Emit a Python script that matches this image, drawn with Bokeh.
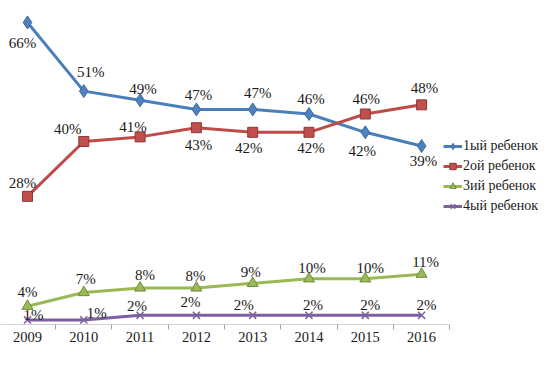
from bokeh.plotting import figure
from bokeh.models import ColumnDataSource, FixedTicker, Legend, LegendItem, Range1d
from bokeh.core.properties import value
from bokeh.embed import file_html
from bokeh.resources import INLINE

years = ["2009", "2010", "2011", "2012", "2013", "2014", "2015", "2016"]
first_child = [66, 51, 49, 47, 47, 46, 42, 39]
second_child = [28, 40, 41, 43, 42, 42, 46, 48]
third_child = [4, 7, 8, 8, 9, 10, 10, 11]
fourth_child = [1, 1, 2, 2, 2, 2, 2, 2]
series_names = ["1ый ребенок", "2ой ребенок", "3ий ребенок", "4ый ребенок"]

# label offsets in screen px (style)
off_blue = ([-5, 7, 3, 2, 5, 2, -3, 2], [21, -19, -11, -14, -16, -15, 19, 15])
off_red = ([-5, -16, -7, 2, -4, 2, 1, 3], [-13, -12, -10, 17, 16, 16, -15, -17])
off_green = ([0, 2, 5, -1, -2, 3, 5, 4], [-14, -13, -13, -12, -11, -11, -11, -12])
off_purple = ([6, 13, -3, -6, -9, 4, 5, 5], [-5, -7, -9, -13, -10, -10, -10, -10])

FONT = "Times"
W, H = 550, 367
X0, DX = 27, 56.3
Y0, PPU = 324, 4.576

xs = list(range(len(years)))

p = figure(width=W, height=H, output_backend="svg", toolbar_location=None,
           x_range=Range1d(-X0 / DX, (W - X0) / DX),
           y_range=Range1d(0, Y0 / PPU),
           y_axis_location=None,
           min_border_left=0, min_border_right=0, min_border_top=0, min_border_bottom=H - Y0)
p.outline_line_color = None
p.xgrid.grid_line_color = None
p.ygrid.grid_line_color = None
p.background_fill_color = "white"

ax = p.xaxis[0]
ax.ticker = FixedTicker(ticks=xs, minor_ticks=[i - 0.5 for i in range(len(years) + 1)])
ax.major_label_overrides = {i: y for i, y in enumerate(years)}
ax.axis_line_color = None
ax.major_tick_out = 0
ax.major_tick_in = 0
ax.minor_tick_in = 0
ax.minor_tick_out = 5
ax.minor_tick_line_color = "#a6a6a6"
ax.major_label_standoff = 2
ax.major_label_text_font = FONT
ax.major_label_text_font_size = "14.5px"
ax.major_label_text_color = "#1a1a1a"

# axis baseline from first to last category boundary
p.segment(x0=[-0.5], y0=[0], x1=[len(years) - 0.5], y1=[0], line_color="#a6a6a6", line_width=1)

specs = [
    (first_child, "#4A7EBB", "#4F81BD", "#3d6ba3", "diamond", 13, off_blue),
    (second_child, "#BE4B48", "#C0504D", "#8c3836", "square", 10, off_red),
    (third_child, "#98B954", "#9BBB59", "#71893f", "triangle", 11, off_green),
    (fourth_child, "#7D60A0", "#8064A2", "#7D60A0", "x", 10, off_purple),
]

items = []
for (vals, lc, fc, ec, marker, size, offs), name in zip(specs, series_names):
    src = ColumnDataSource(dict(x=xs, y=vals, lab=[f"{v}%" for v in vals],
                                dx=offs[0], dy=offs[1]))
    ln = p.line("x", "y", source=src, line_color=lc, line_width=3)
    if marker == "x":
        mk = p.scatter("x", "y", source=src, marker="x", size=size, line_color=ec, line_width=1.5)
    else:
        mk = p.scatter("x", "y", source=src, marker=marker, size=size,
                       fill_color=fc, line_color=ec, line_width=1)
    p.text("x", "y", text="lab", source=src, x_offset="dx", y_offset="dy",
           text_font=value(FONT), text_font_size="15px", text_color="#1a1a1a",
           text_align="center", text_baseline="middle")
    items.append(LegendItem(label=name, renderers=[ln, mk]))

legend = Legend(items=items, location=(443, 110), orientation="vertical",
                glyph_width=19, glyph_height=16, label_height=16, spacing=4,
                label_standoff=1, padding=0, margin=0,
                label_text_font=FONT, label_text_font_size="14px",
                label_text_color="#1a1a1a",
                border_line_color=None, background_fill_alpha=0)
p.add_layout(legend, "center")

open("out.html", "w").write(file_html(p, INLINE))
